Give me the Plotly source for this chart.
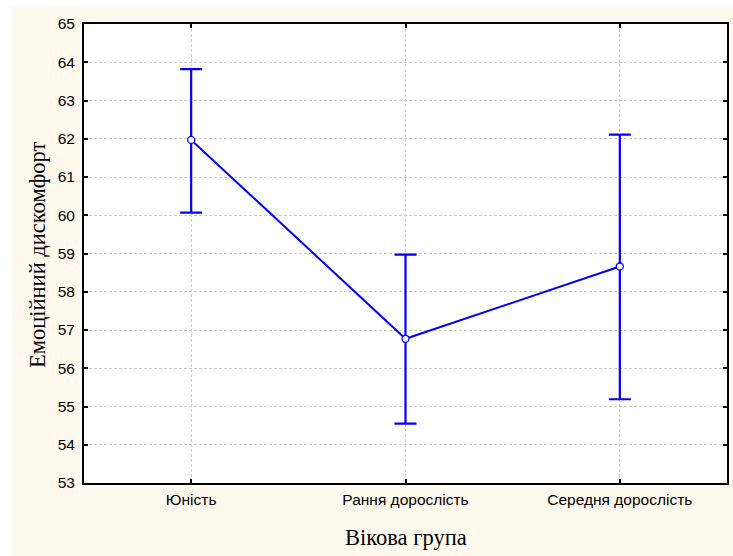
import plotly.graph_objects as go

# Group means of emotional discomfort with 95% confidence limits
groups = ["Юність", "Рання дорослість", "Середня дорослість"]
means = [61.97, 56.77, 58.66]
upper = [63.82, 58.97, 62.11]
lower = [60.07, 54.55, 55.19]
y_ticks = list(range(53, 66))
x_title = "Вікова група"
y_title = "Емоційний дискомфорт"

err_plus = [u - m for u, m in zip(upper, means)]
err_minus = [m - l for m, l in zip(means, lower)]

BLUE = "#0000FF"
CREAM = "#FFF9EE"
TICK_FONT = dict(family="Liberation Sans, Arial", size=15.5, color="black")
TITLE_FONT = dict(family="Liberation Serif, Times New Roman", size=22.5, color="black")

# plot area geometry in pixels
W, H = 733, 556
L, R, T, B = 84, 6, 24, 73
PW, PH = W - L - R, H - T - B

fig = go.Figure()
fig.add_trace(go.Scatter(
    x=groups,
    y=means,
    mode="lines+markers",
    line=dict(color=BLUE, width=2),
    marker=dict(symbol="circle", size=7, color="white",
                line=dict(color=BLUE, width=1.3)),
    error_y=dict(type="data", symmetric=False, array=err_plus,
                 arrayminus=err_minus, color=BLUE, thickness=2.2, width=11),
    showlegend=False,
))

axis_common = dict(
    showline=True, linecolor="black", linewidth=2, mirror="ticks",
    ticks="inside", ticklen=4, tickwidth=2, tickcolor="black",
    showgrid=True, gridcolor="#CCCCCC", gridwidth=1, griddash="3px,2px",
    zeroline=False,
)

fig.update_xaxes(**axis_common, range=[-0.5, 2.5], tickfont=TICK_FONT,
                 ticklabelstandoff=1)
fig.update_yaxes(**axis_common, range=[53, 65], tickvals=y_ticks,
                 tickfont=TICK_FONT, ticklabelstandoff=4)

# axis titles placed as annotations
fig.add_annotation(text=x_title, font=TITLE_FONT, showarrow=False,
                   xref="paper", yref="paper", x=0.5, y=(T + PH - 537) / PH,
                   xanchor="center", yanchor="middle")
fig.add_annotation(text=y_title, font=TITLE_FONT, showarrow=False, textangle=-90,
                   xref="paper", yref="paper", x=(37 - L) / PW, y=(T + PH - 255) / PH,
                   xanchor="center", yanchor="middle")

# thin white strips along the left and top edges of the page
fig.add_shape(type="rect", xref="paper", yref="paper", layer="below",
              x0=-0.2, x1=(12 - L) / PW, y0=-0.3, y1=1.2,
              fillcolor="white", line=dict(width=0))
fig.add_shape(type="rect", xref="paper", yref="paper", layer="below",
              x0=-0.2, x1=1.2, y0=(T + PH - 7) / PH, y1=1.2,
              fillcolor="white", line=dict(width=0))

fig.update_layout(
    width=W, height=H,
    margin=dict(l=L, r=R, t=T, b=B, autoexpand=False),
    paper_bgcolor=CREAM,
    plot_bgcolor="white",
)

fig.write_html("out.html")
